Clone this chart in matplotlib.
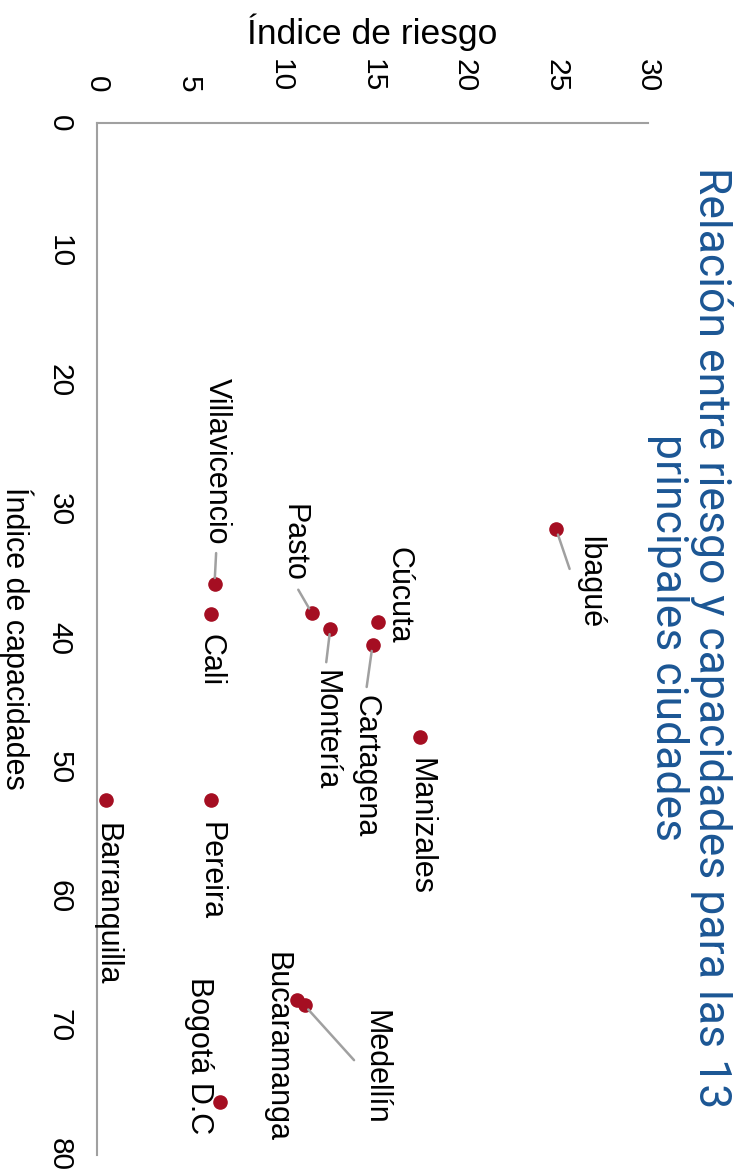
import matplotlib.pyplot as plt

# datos: ciudades, índice de riesgo, índice de capacidades
ciudades = ["Ibagué", "Cúcuta", "Cartagena", "Pasto", "Montería", "Villavicencio", "Cali",
            "Manizales", "Pereira", "Barranquilla", "Bucaramanga", "Medellín", "Bogotá D.C"]
riesgo = [25.0, 15.3, 15.0, 11.7, 12.7, 6.4, 6.2, 17.6, 6.2, 0.5, 10.9, 11.3, 6.7]
capacidades = [31.5, 38.7, 40.5, 38.0, 39.2, 35.7, 38.1, 47.6, 52.5, 52.5, 68.0, 68.4, 75.9]

ticks_riesgo = [0, 5, 10, 15, 20, 25, 30]
ticks_capacidades = [0, 10, 20, 30, 40, 50, 60, 70, 80]

# posición de cada etiqueta respecto al punto (pixeles) y extremo de la línea guía
desplazamientos = [(33, -53), (20, 27), (-7, -121), (-18, 70), (-5, -102), (2, 122), (0, -46),
                   (0, -89), (0, -71), (0, -104), (-21, -47), (71, -62), (-21, 47)]
lineas_guia = [(0, 0.5), None, (0.5, 1), (0.5, 0), (0.5, 1), (0.5, 0), None,
               None, None, None, None, (0, 0.5), None]

plt.rcParams['font.family'] = ['Liberation Sans', 'DejaVu Sans']
GRIS = '#a0a0a0'
ROJO = '#a50e22'
AZUL = '#1b5694'

fig = plt.figure(figsize=(7.53, 11.75), dpi=100)
ax = fig.add_axes([97 / 753, 1 - 1155 / 1175, 551 / 753, 1032 / 1175])

ax.scatter(riesgo, capacidades, s=90, color=ROJO, zorder=3, clip_on=False)

for nombre, r, c, off, rel in zip(ciudades, riesgo, capacidades, desplazamientos, lineas_guia):
    props = None
    if rel is not None:
        props = dict(arrowstyle='-', color=GRIS, lw=1.8, relpos=rel, shrinkA=4, shrinkB=4)
    ax.annotate(nombre, (r, c), xytext=off, textcoords='offset pixels',
                rotation=-90, ha='center', va='center', fontsize=22,
                arrowprops=props, zorder=4)

ax.set_xlim(0, 30)
ax.set_ylim(80, 0)
ax.set_xticks(ticks_riesgo)
ax.set_yticks(ticks_capacidades)
ax.xaxis.tick_top()
ax.tick_params(axis='both', length=0, labelsize=21.5)
ax.tick_params(axis='x', pad=22)
ax.tick_params(axis='y', pad=17)
for lab in ax.get_xticklabels():
    lab.set_rotation(-90)
    lab.set_va('bottom')
    lab.set_ha('center')
for lab in ax.get_yticklabels():
    lab.set_rotation(-90)
    lab.set_va('center')
    lab.set_ha('right')

for lado in ['bottom', 'right']:
    ax.spines[lado].set_visible(False)
for lado in ['top', 'left']:
    ax.spines[lado].set_color(GRIS)
    ax.spines[lado].set_linewidth(1.5)

fig.text(372 / 753, 1 - 32 / 1175, "Índice de riesgo", fontsize=25.5, ha='center', va='center')
fig.text(16 / 753, 1 - 638 / 1175, "Índice de capacidades", fontsize=22, rotation=-90,
         ha='center', va='center')
fig.text(690 / 753, 1 - 638 / 1175,
         "Relación entre riesgo y capacidades para las 13\nprincipales ciudades",
         fontsize=32, rotation=-90, ha='center', va='center', multialignment='center',
         linespacing=1.04, color=AZUL, family=['Roboto', 'DejaVu Sans'])

fig.savefig("out.png", dpi=100)
